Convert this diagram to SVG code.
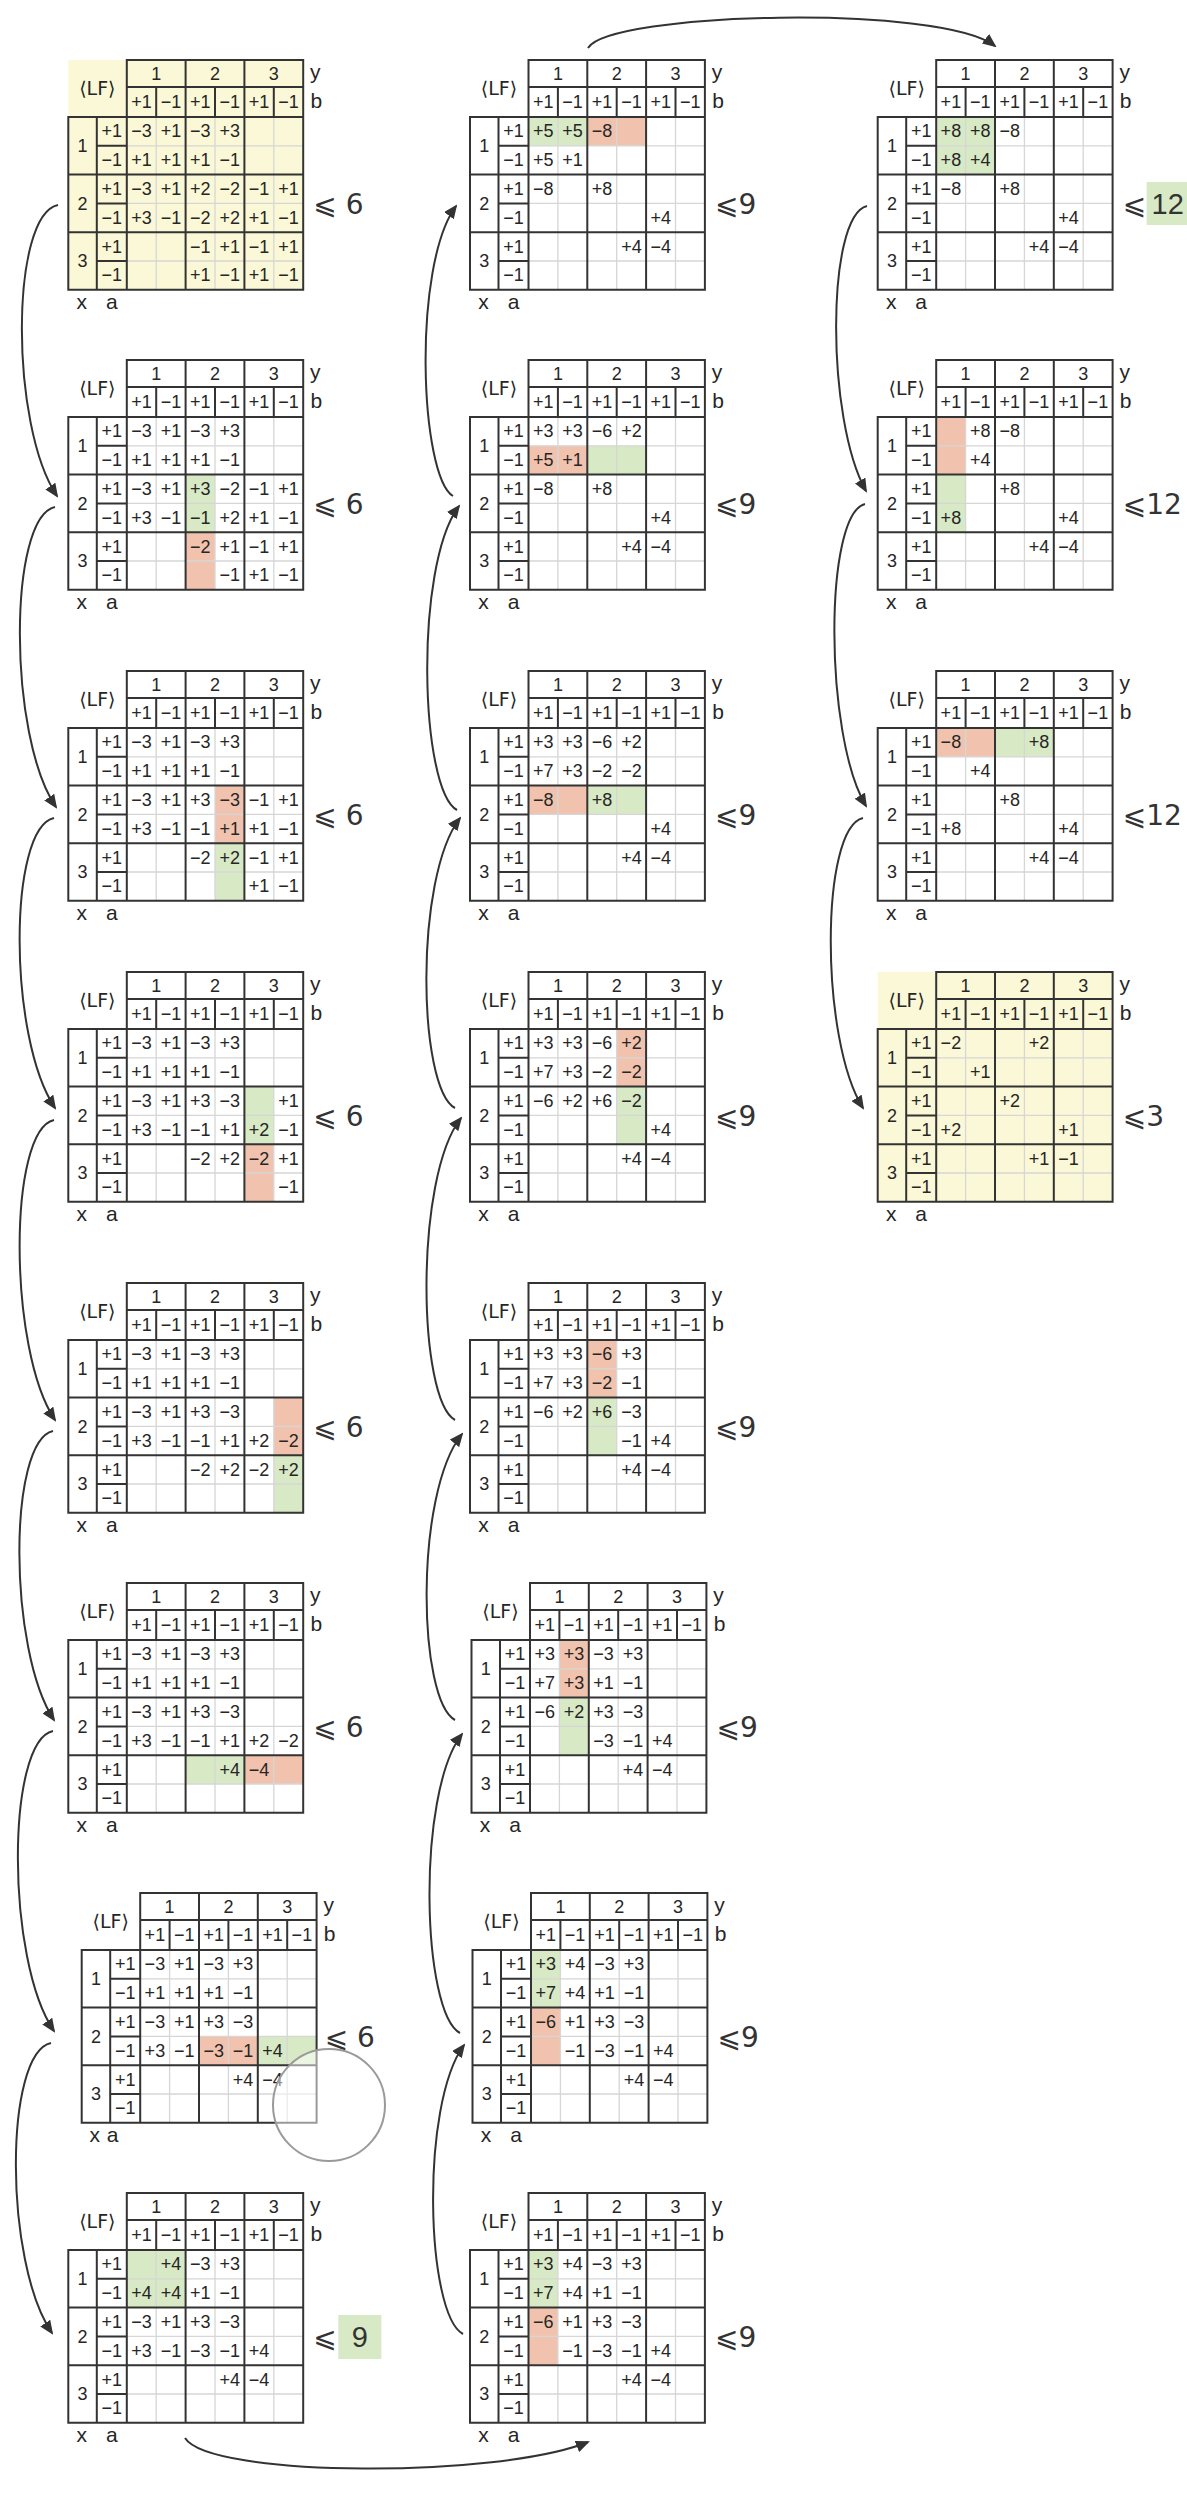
<svg xmlns="http://www.w3.org/2000/svg" xmlns:xlink="http://www.w3.org/1999/xlink" width="1187" height="2500" viewBox="0 0 1187 2500">
<style>
.d{stroke:#333;stroke-width:2;fill:none;stroke-linecap:square}
.l{stroke:#d6d6d6;stroke-width:1.3;fill:none}
text{font-family:"Liberation Sans",Arial,sans-serif;fill:#262626}
.t,.v{font-size:18px;text-anchor:middle}
.t.lf{font-family:"DejaVu Sans",sans-serif;font-size:19px}
.k{font-size:21px;text-anchor:middle}
.le{font-family:"DejaVu Sans",sans-serif;font-size:28px;fill:#333}
.bx{font-size:29px;text-anchor:middle;fill:#333}
.gr{fill:#d8e9c5}
.rd{fill:#f1c3ae}
.yl{fill:#fbf8d7}
.ar{fill:none;stroke:#333;stroke-width:2}
</style>
<defs>
<marker id="ah" markerWidth="14" markerHeight="12" refX="12" refY="6" orient="auto" markerUnits="userSpaceOnUse"><path d="M0 0L14 6L0 12Z" fill="#333"/></marker>
<g id="grid">
<path class="l" d="M87.9 57V229.8M146.7 57V229.8M205.5 57V229.8M58.5 85.8H234.9M58.5 143.4H234.9M58.5 201H234.9"/>
<path class="d" d="M58.5 0H234.9V229.8H0V57H58.5ZM58.5 27H234.9M58.5 57H234.9M28.5 57V229.8M58.5 57V229.8M117.3 0V229.8M176.1 0V229.8M87.9 27V57M146.7 27V57M205.5 27V57M0 114.6H234.9M0 172.2H234.9M28.5 85.8H58.5M28.5 143.4H58.5M28.5 201H58.5"/>
</g>
</defs>

<g id="connectors">
<path class="ar" marker-end="url(#ah)" d="M58 205C10 215 10 426 57 496"/>
<path class="ar" marker-end="url(#ah)" d="M55 507C8 517 8 737 56 807"/>
<path class="ar" marker-end="url(#ah)" d="M54 818C8 828 8 1038 55 1108"/>
<path class="ar" marker-end="url(#ah)" d="M54 1120C8 1130 8 1350 55 1420"/>
<path class="ar" marker-end="url(#ah)" d="M53 1431C8 1441 8 1650 54 1720"/>
<path class="ar" marker-end="url(#ah)" d="M53 1731C6 1741 6 1961 54 2031"/>
<path class="ar" marker-end="url(#ah)" d="M51 2043C4 2053 4 2263 52 2333"/>
<path class="ar" marker-end="url(#ah)" d="M185 2438C210 2478 500 2478 588 2442"/>
<path class="ar" marker-end="url(#ah)" d="M463 2334C426 2314 420 2105 464 2045"/>
<path class="ar" marker-end="url(#ah)" d="M460 2033C422 2013 416 1794 462 1734"/>
<path class="ar" marker-end="url(#ah)" d="M455 1720C418 1700 414 1494 462 1434"/>
<path class="ar" marker-end="url(#ah)" d="M455 1420C418 1400 414 1178 461 1118"/>
<path class="ar" marker-end="url(#ah)" d="M455 1108C418 1088 414 878 460 818"/>
<path class="ar" marker-end="url(#ah)" d="M457 810C420 790 414 566 459 506"/>
<path class="ar" marker-end="url(#ah)" d="M453 496C420 476 412 266 456 206"/>
<path class="ar" marker-end="url(#ah)" d="M588 48C610 12 940 4 995 46"/>
<path class="ar" marker-end="url(#ah)" d="M867 206C826 216 826 420 866 491"/>
<path class="ar" marker-end="url(#ah)" d="M865 504C824 514 824 736 866 806"/>
<path class="ar" marker-end="url(#ah)" d="M863 818C820 828 820 1040 863 1108"/>
</g>

<g id="table-1" transform="translate(68.3 60)">
<rect class="yl" x="0" y="0" width="234.9" height="229.8"/>
<use href="#grid"/>
<text class="t" y="19.5"><tspan x="87.9">1</tspan><tspan x="146.7">2</tspan><tspan x="205.5">3</tspan></text>
<text class="t" y="48"><tspan x="73.2">+1</tspan><tspan x="102.6">−1</tspan><tspan x="132">+1</tspan><tspan x="161.4">−1</tspan><tspan x="190.8">+1</tspan><tspan x="220.2">−1</tspan></text>
<text class="t lf" x="29" y="35">⟨LF⟩</text>
<text class="t"><tspan x="14.2" y="92">1</tspan><tspan x="14.2" y="149.5">2</tspan><tspan x="14.2" y="207">3</tspan></text>
<text class="t"><tspan x="43.5" y="77.4">+1</tspan><tspan x="43.5" y="106.2">−1</tspan><tspan x="43.5" y="135">+1</tspan><tspan x="43.5" y="163.8">−1</tspan><tspan x="43.5" y="192.6">+1</tspan><tspan x="43.5" y="221.4">−1</tspan></text>
<text class="k" x="247" y="19">y</text><text class="k" x="248" y="48">b</text><text class="k" x="13.5" y="249">x</text><text class="k" x="43.5" y="249">a</text>
<text class="v" y="77.4"><tspan x="73.2">−3</tspan><tspan x="102.6">+1</tspan><tspan x="132">−3</tspan><tspan x="161.4">+3</tspan></text>
<text class="v" y="106.2"><tspan x="73.2">+1</tspan><tspan x="102.6">+1</tspan><tspan x="132">+1</tspan><tspan x="161.4">−1</tspan></text>
<text class="v" y="135"><tspan x="73.2">−3</tspan><tspan x="102.6">+1</tspan><tspan x="132">+2</tspan><tspan x="161.4">−2</tspan><tspan x="190.8">−1</tspan><tspan x="220.2">+1</tspan></text>
<text class="v" y="163.8"><tspan x="73.2">+3</tspan><tspan x="102.6">−1</tspan><tspan x="132">−2</tspan><tspan x="161.4">+2</tspan><tspan x="190.8">+1</tspan><tspan x="220.2">−1</tspan></text>
<text class="v" y="192.6"><tspan x="132">−1</tspan><tspan x="161.4">+1</tspan><tspan x="190.8">−1</tspan><tspan x="220.2">+1</tspan></text>
<text class="v" y="221.4"><tspan x="132">+1</tspan><tspan x="161.4">−1</tspan><tspan x="190.8">+1</tspan><tspan x="220.2">−1</tspan></text>
<text class="le" x="245" y="153.5">⩽ 6</text>
</g>

<g id="table-2" transform="translate(68.3 360)">
<rect class="gr" x="117.3" y="114.6" width="29.4" height="57.6"/>
<rect class="rd" x="117.3" y="172.2" width="29.4" height="57.6"/>
<use href="#grid"/>
<text class="t" y="19.5"><tspan x="87.9">1</tspan><tspan x="146.7">2</tspan><tspan x="205.5">3</tspan></text>
<text class="t" y="48"><tspan x="73.2">+1</tspan><tspan x="102.6">−1</tspan><tspan x="132">+1</tspan><tspan x="161.4">−1</tspan><tspan x="190.8">+1</tspan><tspan x="220.2">−1</tspan></text>
<text class="t lf" x="29" y="35">⟨LF⟩</text>
<text class="t"><tspan x="14.2" y="92">1</tspan><tspan x="14.2" y="149.5">2</tspan><tspan x="14.2" y="207">3</tspan></text>
<text class="t"><tspan x="43.5" y="77.4">+1</tspan><tspan x="43.5" y="106.2">−1</tspan><tspan x="43.5" y="135">+1</tspan><tspan x="43.5" y="163.8">−1</tspan><tspan x="43.5" y="192.6">+1</tspan><tspan x="43.5" y="221.4">−1</tspan></text>
<text class="k" x="247" y="19">y</text><text class="k" x="248" y="48">b</text><text class="k" x="13.5" y="249">x</text><text class="k" x="43.5" y="249">a</text>
<text class="v" y="77.4"><tspan x="73.2">−3</tspan><tspan x="102.6">+1</tspan><tspan x="132">−3</tspan><tspan x="161.4">+3</tspan></text>
<text class="v" y="106.2"><tspan x="73.2">+1</tspan><tspan x="102.6">+1</tspan><tspan x="132">+1</tspan><tspan x="161.4">−1</tspan></text>
<text class="v" y="135"><tspan x="73.2">−3</tspan><tspan x="102.6">+1</tspan><tspan x="132">+3</tspan><tspan x="161.4">−2</tspan><tspan x="190.8">−1</tspan><tspan x="220.2">+1</tspan></text>
<text class="v" y="163.8"><tspan x="73.2">+3</tspan><tspan x="102.6">−1</tspan><tspan x="132">−1</tspan><tspan x="161.4">+2</tspan><tspan x="190.8">+1</tspan><tspan x="220.2">−1</tspan></text>
<text class="v" y="192.6"><tspan x="132">−2</tspan><tspan x="161.4">+1</tspan><tspan x="190.8">−1</tspan><tspan x="220.2">+1</tspan></text>
<text class="v" y="221.4"><tspan x="161.4">−1</tspan><tspan x="190.8">+1</tspan><tspan x="220.2">−1</tspan></text>
<text class="le" x="245" y="153.5">⩽ 6</text>
</g>

<g id="table-3" transform="translate(68.3 671)">
<rect class="rd" x="146.7" y="114.6" width="29.4" height="57.6"/>
<rect class="gr" x="146.7" y="172.2" width="29.4" height="57.6"/>
<use href="#grid"/>
<text class="t" y="19.5"><tspan x="87.9">1</tspan><tspan x="146.7">2</tspan><tspan x="205.5">3</tspan></text>
<text class="t" y="48"><tspan x="73.2">+1</tspan><tspan x="102.6">−1</tspan><tspan x="132">+1</tspan><tspan x="161.4">−1</tspan><tspan x="190.8">+1</tspan><tspan x="220.2">−1</tspan></text>
<text class="t lf" x="29" y="35">⟨LF⟩</text>
<text class="t"><tspan x="14.2" y="92">1</tspan><tspan x="14.2" y="149.5">2</tspan><tspan x="14.2" y="207">3</tspan></text>
<text class="t"><tspan x="43.5" y="77.4">+1</tspan><tspan x="43.5" y="106.2">−1</tspan><tspan x="43.5" y="135">+1</tspan><tspan x="43.5" y="163.8">−1</tspan><tspan x="43.5" y="192.6">+1</tspan><tspan x="43.5" y="221.4">−1</tspan></text>
<text class="k" x="247" y="19">y</text><text class="k" x="248" y="48">b</text><text class="k" x="13.5" y="249">x</text><text class="k" x="43.5" y="249">a</text>
<text class="v" y="77.4"><tspan x="73.2">−3</tspan><tspan x="102.6">+1</tspan><tspan x="132">−3</tspan><tspan x="161.4">+3</tspan></text>
<text class="v" y="106.2"><tspan x="73.2">+1</tspan><tspan x="102.6">+1</tspan><tspan x="132">+1</tspan><tspan x="161.4">−1</tspan></text>
<text class="v" y="135"><tspan x="73.2">−3</tspan><tspan x="102.6">+1</tspan><tspan x="132">+3</tspan><tspan x="161.4">−3</tspan><tspan x="190.8">−1</tspan><tspan x="220.2">+1</tspan></text>
<text class="v" y="163.8"><tspan x="73.2">+3</tspan><tspan x="102.6">−1</tspan><tspan x="132">−1</tspan><tspan x="161.4">+1</tspan><tspan x="190.8">+1</tspan><tspan x="220.2">−1</tspan></text>
<text class="v" y="192.6"><tspan x="132">−2</tspan><tspan x="161.4">+2</tspan><tspan x="190.8">−1</tspan><tspan x="220.2">+1</tspan></text>
<text class="v" y="221.4"><tspan x="190.8">+1</tspan><tspan x="220.2">−1</tspan></text>
<text class="le" x="245" y="153.5">⩽ 6</text>
</g>

<g id="table-4" transform="translate(68.3 972)">
<rect class="gr" x="176.1" y="114.6" width="29.4" height="57.6"/>
<rect class="rd" x="176.1" y="172.2" width="29.4" height="57.6"/>
<use href="#grid"/>
<text class="t" y="19.5"><tspan x="87.9">1</tspan><tspan x="146.7">2</tspan><tspan x="205.5">3</tspan></text>
<text class="t" y="48"><tspan x="73.2">+1</tspan><tspan x="102.6">−1</tspan><tspan x="132">+1</tspan><tspan x="161.4">−1</tspan><tspan x="190.8">+1</tspan><tspan x="220.2">−1</tspan></text>
<text class="t lf" x="29" y="35">⟨LF⟩</text>
<text class="t"><tspan x="14.2" y="92">1</tspan><tspan x="14.2" y="149.5">2</tspan><tspan x="14.2" y="207">3</tspan></text>
<text class="t"><tspan x="43.5" y="77.4">+1</tspan><tspan x="43.5" y="106.2">−1</tspan><tspan x="43.5" y="135">+1</tspan><tspan x="43.5" y="163.8">−1</tspan><tspan x="43.5" y="192.6">+1</tspan><tspan x="43.5" y="221.4">−1</tspan></text>
<text class="k" x="247" y="19">y</text><text class="k" x="248" y="48">b</text><text class="k" x="13.5" y="249">x</text><text class="k" x="43.5" y="249">a</text>
<text class="v" y="77.4"><tspan x="73.2">−3</tspan><tspan x="102.6">+1</tspan><tspan x="132">−3</tspan><tspan x="161.4">+3</tspan></text>
<text class="v" y="106.2"><tspan x="73.2">+1</tspan><tspan x="102.6">+1</tspan><tspan x="132">+1</tspan><tspan x="161.4">−1</tspan></text>
<text class="v" y="135"><tspan x="73.2">−3</tspan><tspan x="102.6">+1</tspan><tspan x="132">+3</tspan><tspan x="161.4">−3</tspan><tspan x="220.2">+1</tspan></text>
<text class="v" y="163.8"><tspan x="73.2">+3</tspan><tspan x="102.6">−1</tspan><tspan x="132">−1</tspan><tspan x="161.4">+1</tspan><tspan x="190.8">+2</tspan><tspan x="220.2">−1</tspan></text>
<text class="v" y="192.6"><tspan x="132">−2</tspan><tspan x="161.4">+2</tspan><tspan x="190.8">−2</tspan><tspan x="220.2">+1</tspan></text>
<text class="v" y="221.4"><tspan x="220.2">−1</tspan></text>
<text class="le" x="245" y="153.5">⩽ 6</text>
</g>

<g id="table-5" transform="translate(68.3 1283)">
<rect class="rd" x="205.5" y="114.6" width="29.4" height="57.6"/>
<rect class="gr" x="205.5" y="172.2" width="29.4" height="57.6"/>
<use href="#grid"/>
<text class="t" y="19.5"><tspan x="87.9">1</tspan><tspan x="146.7">2</tspan><tspan x="205.5">3</tspan></text>
<text class="t" y="48"><tspan x="73.2">+1</tspan><tspan x="102.6">−1</tspan><tspan x="132">+1</tspan><tspan x="161.4">−1</tspan><tspan x="190.8">+1</tspan><tspan x="220.2">−1</tspan></text>
<text class="t lf" x="29" y="35">⟨LF⟩</text>
<text class="t"><tspan x="14.2" y="92">1</tspan><tspan x="14.2" y="149.5">2</tspan><tspan x="14.2" y="207">3</tspan></text>
<text class="t"><tspan x="43.5" y="77.4">+1</tspan><tspan x="43.5" y="106.2">−1</tspan><tspan x="43.5" y="135">+1</tspan><tspan x="43.5" y="163.8">−1</tspan><tspan x="43.5" y="192.6">+1</tspan><tspan x="43.5" y="221.4">−1</tspan></text>
<text class="k" x="247" y="19">y</text><text class="k" x="248" y="48">b</text><text class="k" x="13.5" y="249">x</text><text class="k" x="43.5" y="249">a</text>
<text class="v" y="77.4"><tspan x="73.2">−3</tspan><tspan x="102.6">+1</tspan><tspan x="132">−3</tspan><tspan x="161.4">+3</tspan></text>
<text class="v" y="106.2"><tspan x="73.2">+1</tspan><tspan x="102.6">+1</tspan><tspan x="132">+1</tspan><tspan x="161.4">−1</tspan></text>
<text class="v" y="135"><tspan x="73.2">−3</tspan><tspan x="102.6">+1</tspan><tspan x="132">+3</tspan><tspan x="161.4">−3</tspan></text>
<text class="v" y="163.8"><tspan x="73.2">+3</tspan><tspan x="102.6">−1</tspan><tspan x="132">−1</tspan><tspan x="161.4">+1</tspan><tspan x="190.8">+2</tspan><tspan x="220.2">−2</tspan></text>
<text class="v" y="192.6"><tspan x="132">−2</tspan><tspan x="161.4">+2</tspan><tspan x="190.8">−2</tspan><tspan x="220.2">+2</tspan></text>
<text class="le" x="245" y="153.5">⩽ 6</text>
</g>

<g id="table-6" transform="translate(68.3 1583)">
<rect class="gr" x="117.3" y="172.2" width="58.8" height="28.8"/>
<rect class="rd" x="176.1" y="172.2" width="58.8" height="28.8"/>
<use href="#grid"/>
<text class="t" y="19.5"><tspan x="87.9">1</tspan><tspan x="146.7">2</tspan><tspan x="205.5">3</tspan></text>
<text class="t" y="48"><tspan x="73.2">+1</tspan><tspan x="102.6">−1</tspan><tspan x="132">+1</tspan><tspan x="161.4">−1</tspan><tspan x="190.8">+1</tspan><tspan x="220.2">−1</tspan></text>
<text class="t lf" x="29" y="35">⟨LF⟩</text>
<text class="t"><tspan x="14.2" y="92">1</tspan><tspan x="14.2" y="149.5">2</tspan><tspan x="14.2" y="207">3</tspan></text>
<text class="t"><tspan x="43.5" y="77.4">+1</tspan><tspan x="43.5" y="106.2">−1</tspan><tspan x="43.5" y="135">+1</tspan><tspan x="43.5" y="163.8">−1</tspan><tspan x="43.5" y="192.6">+1</tspan><tspan x="43.5" y="221.4">−1</tspan></text>
<text class="k" x="247" y="19">y</text><text class="k" x="248" y="48">b</text><text class="k" x="13.5" y="249">x</text><text class="k" x="43.5" y="249">a</text>
<text class="v" y="77.4"><tspan x="73.2">−3</tspan><tspan x="102.6">+1</tspan><tspan x="132">−3</tspan><tspan x="161.4">+3</tspan></text>
<text class="v" y="106.2"><tspan x="73.2">+1</tspan><tspan x="102.6">+1</tspan><tspan x="132">+1</tspan><tspan x="161.4">−1</tspan></text>
<text class="v" y="135"><tspan x="73.2">−3</tspan><tspan x="102.6">+1</tspan><tspan x="132">+3</tspan><tspan x="161.4">−3</tspan></text>
<text class="v" y="163.8"><tspan x="73.2">+3</tspan><tspan x="102.6">−1</tspan><tspan x="132">−1</tspan><tspan x="161.4">+1</tspan><tspan x="190.8">+2</tspan><tspan x="220.2">−2</tspan></text>
<text class="v" y="192.6"><tspan x="161.4">+4</tspan><tspan x="190.8">−4</tspan></text>
<text class="le" x="245" y="153.5">⩽ 6</text>
</g>

<g id="table-7" transform="translate(81.7 1893)">
<rect class="rd" x="117.3" y="143.4" width="58.8" height="28.8"/>
<rect class="gr" x="176.1" y="143.4" width="58.8" height="28.8"/>
<use href="#grid"/>
<text class="t" y="19.5"><tspan x="87.9">1</tspan><tspan x="146.7">2</tspan><tspan x="205.5">3</tspan></text>
<text class="t" y="48"><tspan x="73.2">+1</tspan><tspan x="102.6">−1</tspan><tspan x="132">+1</tspan><tspan x="161.4">−1</tspan><tspan x="190.8">+1</tspan><tspan x="220.2">−1</tspan></text>
<text class="t lf" x="29" y="35">⟨LF⟩</text>
<text class="t"><tspan x="14.2" y="92">1</tspan><tspan x="14.2" y="149.5">2</tspan><tspan x="14.2" y="207">3</tspan></text>
<text class="t"><tspan x="43.5" y="77.4">+1</tspan><tspan x="43.5" y="106.2">−1</tspan><tspan x="43.5" y="135">+1</tspan><tspan x="43.5" y="163.8">−1</tspan><tspan x="43.5" y="192.6">+1</tspan><tspan x="43.5" y="221.4">−1</tspan></text>
<text class="k" x="247" y="19">y</text><text class="k" x="248" y="48">b</text><text class="k" x="13" y="249">x</text><text class="k" x="31" y="249">a</text>
<text class="v" y="77.4"><tspan x="73.2">−3</tspan><tspan x="102.6">+1</tspan><tspan x="132">−3</tspan><tspan x="161.4">+3</tspan></text>
<text class="v" y="106.2"><tspan x="73.2">+1</tspan><tspan x="102.6">+1</tspan><tspan x="132">+1</tspan><tspan x="161.4">−1</tspan></text>
<text class="v" y="135"><tspan x="73.2">−3</tspan><tspan x="102.6">+1</tspan><tspan x="132">+3</tspan><tspan x="161.4">−3</tspan></text>
<text class="v" y="163.8"><tspan x="73.2">+3</tspan><tspan x="102.6">−1</tspan><tspan x="132">−3</tspan><tspan x="161.4">−1</tspan><tspan x="190.8">+4</tspan></text>
<text class="v" y="192.6"><tspan x="161.4">+4</tspan><tspan x="190.8">−4</tspan></text>
<text class="le" x="243" y="153.5">⩽ 6</text>
<circle cx="247.3" cy="212" r="56" fill="#fff" fill-opacity="0.5" stroke="#9a9a9a" stroke-width="2"/>
</g>

<g id="table-8" transform="translate(68.3 2193)">
<rect class="gr" x="58.5" y="57" width="58.8" height="57.6"/>
<use href="#grid"/>
<text class="t" y="19.5"><tspan x="87.9">1</tspan><tspan x="146.7">2</tspan><tspan x="205.5">3</tspan></text>
<text class="t" y="48"><tspan x="73.2">+1</tspan><tspan x="102.6">−1</tspan><tspan x="132">+1</tspan><tspan x="161.4">−1</tspan><tspan x="190.8">+1</tspan><tspan x="220.2">−1</tspan></text>
<text class="t lf" x="29" y="35">⟨LF⟩</text>
<text class="t"><tspan x="14.2" y="92">1</tspan><tspan x="14.2" y="149.5">2</tspan><tspan x="14.2" y="207">3</tspan></text>
<text class="t"><tspan x="43.5" y="77.4">+1</tspan><tspan x="43.5" y="106.2">−1</tspan><tspan x="43.5" y="135">+1</tspan><tspan x="43.5" y="163.8">−1</tspan><tspan x="43.5" y="192.6">+1</tspan><tspan x="43.5" y="221.4">−1</tspan></text>
<text class="k" x="247" y="19">y</text><text class="k" x="248" y="48">b</text><text class="k" x="13.5" y="249">x</text><text class="k" x="43.5" y="249">a</text>
<text class="v" y="77.4"><tspan x="102.6">+4</tspan><tspan x="132">−3</tspan><tspan x="161.4">+3</tspan></text>
<text class="v" y="106.2"><tspan x="73.2">+4</tspan><tspan x="102.6">+4</tspan><tspan x="132">+1</tspan><tspan x="161.4">−1</tspan></text>
<text class="v" y="135"><tspan x="73.2">−3</tspan><tspan x="102.6">+1</tspan><tspan x="132">+3</tspan><tspan x="161.4">−3</tspan></text>
<text class="v" y="163.8"><tspan x="73.2">+3</tspan><tspan x="102.6">−1</tspan><tspan x="132">−3</tspan><tspan x="161.4">−1</tspan><tspan x="190.8">+4</tspan></text>
<text class="v" y="192.6"><tspan x="161.4">+4</tspan><tspan x="190.8">−4</tspan></text>
<text class="le" x="245" y="153.5">⩽</text>
<rect class="gr" x="270" y="122" width="43" height="44"/>
<text class="bx" x="291.5" y="154">9</text>
</g>

<g id="table-9" transform="translate(470 60)">
<rect class="gr" x="58.5" y="57" width="58.8" height="28.8"/>
<rect class="rd" x="117.3" y="57" width="58.8" height="28.8"/>
<use href="#grid"/>
<text class="t" y="19.5"><tspan x="87.9">1</tspan><tspan x="146.7">2</tspan><tspan x="205.5">3</tspan></text>
<text class="t" y="48"><tspan x="73.2">+1</tspan><tspan x="102.6">−1</tspan><tspan x="132">+1</tspan><tspan x="161.4">−1</tspan><tspan x="190.8">+1</tspan><tspan x="220.2">−1</tspan></text>
<text class="t lf" x="29" y="35">⟨LF⟩</text>
<text class="t"><tspan x="14.2" y="92">1</tspan><tspan x="14.2" y="149.5">2</tspan><tspan x="14.2" y="207">3</tspan></text>
<text class="t"><tspan x="43.5" y="77.4">+1</tspan><tspan x="43.5" y="106.2">−1</tspan><tspan x="43.5" y="135">+1</tspan><tspan x="43.5" y="163.8">−1</tspan><tspan x="43.5" y="192.6">+1</tspan><tspan x="43.5" y="221.4">−1</tspan></text>
<text class="k" x="247" y="19">y</text><text class="k" x="248" y="48">b</text><text class="k" x="13.5" y="249">x</text><text class="k" x="43.5" y="249">a</text>
<text class="v" y="77.4"><tspan x="73.2">+5</tspan><tspan x="102.6">+5</tspan><tspan x="132">−8</tspan></text>
<text class="v" y="106.2"><tspan x="73.2">+5</tspan><tspan x="102.6">+1</tspan></text>
<text class="v" y="135"><tspan x="73.2">−8</tspan><tspan x="132">+8</tspan></text>
<text class="v" y="163.8"><tspan x="190.8">+4</tspan></text>
<text class="v" y="192.6"><tspan x="161.4">+4</tspan><tspan x="190.8">−4</tspan></text>
<text class="le" x="245" y="153.5">⩽9</text>
</g>

<g id="table-10" transform="translate(470 360)">
<rect class="rd" x="58.5" y="85.8" width="58.8" height="28.8"/>
<rect class="gr" x="117.3" y="85.8" width="58.8" height="28.8"/>
<use href="#grid"/>
<text class="t" y="19.5"><tspan x="87.9">1</tspan><tspan x="146.7">2</tspan><tspan x="205.5">3</tspan></text>
<text class="t" y="48"><tspan x="73.2">+1</tspan><tspan x="102.6">−1</tspan><tspan x="132">+1</tspan><tspan x="161.4">−1</tspan><tspan x="190.8">+1</tspan><tspan x="220.2">−1</tspan></text>
<text class="t lf" x="29" y="35">⟨LF⟩</text>
<text class="t"><tspan x="14.2" y="92">1</tspan><tspan x="14.2" y="149.5">2</tspan><tspan x="14.2" y="207">3</tspan></text>
<text class="t"><tspan x="43.5" y="77.4">+1</tspan><tspan x="43.5" y="106.2">−1</tspan><tspan x="43.5" y="135">+1</tspan><tspan x="43.5" y="163.8">−1</tspan><tspan x="43.5" y="192.6">+1</tspan><tspan x="43.5" y="221.4">−1</tspan></text>
<text class="k" x="247" y="19">y</text><text class="k" x="248" y="48">b</text><text class="k" x="13.5" y="249">x</text><text class="k" x="43.5" y="249">a</text>
<text class="v" y="77.4"><tspan x="73.2">+3</tspan><tspan x="102.6">+3</tspan><tspan x="132">−6</tspan><tspan x="161.4">+2</tspan></text>
<text class="v" y="106.2"><tspan x="73.2">+5</tspan><tspan x="102.6">+1</tspan></text>
<text class="v" y="135"><tspan x="73.2">−8</tspan><tspan x="132">+8</tspan></text>
<text class="v" y="163.8"><tspan x="190.8">+4</tspan></text>
<text class="v" y="192.6"><tspan x="161.4">+4</tspan><tspan x="190.8">−4</tspan></text>
<text class="le" x="245" y="153.5">⩽9</text>
</g>

<g id="table-11" transform="translate(470 671)">
<rect class="rd" x="58.5" y="114.6" width="58.8" height="28.8"/>
<rect class="gr" x="117.3" y="114.6" width="58.8" height="28.8"/>
<use href="#grid"/>
<text class="t" y="19.5"><tspan x="87.9">1</tspan><tspan x="146.7">2</tspan><tspan x="205.5">3</tspan></text>
<text class="t" y="48"><tspan x="73.2">+1</tspan><tspan x="102.6">−1</tspan><tspan x="132">+1</tspan><tspan x="161.4">−1</tspan><tspan x="190.8">+1</tspan><tspan x="220.2">−1</tspan></text>
<text class="t lf" x="29" y="35">⟨LF⟩</text>
<text class="t"><tspan x="14.2" y="92">1</tspan><tspan x="14.2" y="149.5">2</tspan><tspan x="14.2" y="207">3</tspan></text>
<text class="t"><tspan x="43.5" y="77.4">+1</tspan><tspan x="43.5" y="106.2">−1</tspan><tspan x="43.5" y="135">+1</tspan><tspan x="43.5" y="163.8">−1</tspan><tspan x="43.5" y="192.6">+1</tspan><tspan x="43.5" y="221.4">−1</tspan></text>
<text class="k" x="247" y="19">y</text><text class="k" x="248" y="48">b</text><text class="k" x="13.5" y="249">x</text><text class="k" x="43.5" y="249">a</text>
<text class="v" y="77.4"><tspan x="73.2">+3</tspan><tspan x="102.6">+3</tspan><tspan x="132">−6</tspan><tspan x="161.4">+2</tspan></text>
<text class="v" y="106.2"><tspan x="73.2">+7</tspan><tspan x="102.6">+3</tspan><tspan x="132">−2</tspan><tspan x="161.4">−2</tspan></text>
<text class="v" y="135"><tspan x="73.2">−8</tspan><tspan x="132">+8</tspan></text>
<text class="v" y="163.8"><tspan x="190.8">+4</tspan></text>
<text class="v" y="192.6"><tspan x="161.4">+4</tspan><tspan x="190.8">−4</tspan></text>
<text class="le" x="245" y="153.5">⩽9</text>
</g>

<g id="table-12" transform="translate(470 972)">
<rect class="rd" x="146.7" y="57" width="29.4" height="57.6"/>
<rect class="gr" x="146.7" y="114.6" width="29.4" height="57.6"/>
<use href="#grid"/>
<text class="t" y="19.5"><tspan x="87.9">1</tspan><tspan x="146.7">2</tspan><tspan x="205.5">3</tspan></text>
<text class="t" y="48"><tspan x="73.2">+1</tspan><tspan x="102.6">−1</tspan><tspan x="132">+1</tspan><tspan x="161.4">−1</tspan><tspan x="190.8">+1</tspan><tspan x="220.2">−1</tspan></text>
<text class="t lf" x="29" y="35">⟨LF⟩</text>
<text class="t"><tspan x="14.2" y="92">1</tspan><tspan x="14.2" y="149.5">2</tspan><tspan x="14.2" y="207">3</tspan></text>
<text class="t"><tspan x="43.5" y="77.4">+1</tspan><tspan x="43.5" y="106.2">−1</tspan><tspan x="43.5" y="135">+1</tspan><tspan x="43.5" y="163.8">−1</tspan><tspan x="43.5" y="192.6">+1</tspan><tspan x="43.5" y="221.4">−1</tspan></text>
<text class="k" x="247" y="19">y</text><text class="k" x="248" y="48">b</text><text class="k" x="13.5" y="249">x</text><text class="k" x="43.5" y="249">a</text>
<text class="v" y="77.4"><tspan x="73.2">+3</tspan><tspan x="102.6">+3</tspan><tspan x="132">−6</tspan><tspan x="161.4">+2</tspan></text>
<text class="v" y="106.2"><tspan x="73.2">+7</tspan><tspan x="102.6">+3</tspan><tspan x="132">−2</tspan><tspan x="161.4">−2</tspan></text>
<text class="v" y="135"><tspan x="73.2">−6</tspan><tspan x="102.6">+2</tspan><tspan x="132">+6</tspan><tspan x="161.4">−2</tspan></text>
<text class="v" y="163.8"><tspan x="190.8">+4</tspan></text>
<text class="v" y="192.6"><tspan x="161.4">+4</tspan><tspan x="190.8">−4</tspan></text>
<text class="le" x="245" y="153.5">⩽9</text>
</g>

<g id="table-13" transform="translate(470 1283)">
<rect class="rd" x="117.3" y="57" width="29.4" height="57.6"/>
<rect class="gr" x="117.3" y="114.6" width="29.4" height="57.6"/>
<use href="#grid"/>
<text class="t" y="19.5"><tspan x="87.9">1</tspan><tspan x="146.7">2</tspan><tspan x="205.5">3</tspan></text>
<text class="t" y="48"><tspan x="73.2">+1</tspan><tspan x="102.6">−1</tspan><tspan x="132">+1</tspan><tspan x="161.4">−1</tspan><tspan x="190.8">+1</tspan><tspan x="220.2">−1</tspan></text>
<text class="t lf" x="29" y="35">⟨LF⟩</text>
<text class="t"><tspan x="14.2" y="92">1</tspan><tspan x="14.2" y="149.5">2</tspan><tspan x="14.2" y="207">3</tspan></text>
<text class="t"><tspan x="43.5" y="77.4">+1</tspan><tspan x="43.5" y="106.2">−1</tspan><tspan x="43.5" y="135">+1</tspan><tspan x="43.5" y="163.8">−1</tspan><tspan x="43.5" y="192.6">+1</tspan><tspan x="43.5" y="221.4">−1</tspan></text>
<text class="k" x="247" y="19">y</text><text class="k" x="248" y="48">b</text><text class="k" x="13.5" y="249">x</text><text class="k" x="43.5" y="249">a</text>
<text class="v" y="77.4"><tspan x="73.2">+3</tspan><tspan x="102.6">+3</tspan><tspan x="132">−6</tspan><tspan x="161.4">+3</tspan></text>
<text class="v" y="106.2"><tspan x="73.2">+7</tspan><tspan x="102.6">+3</tspan><tspan x="132">−2</tspan><tspan x="161.4">−1</tspan></text>
<text class="v" y="135"><tspan x="73.2">−6</tspan><tspan x="102.6">+2</tspan><tspan x="132">+6</tspan><tspan x="161.4">−3</tspan></text>
<text class="v" y="163.8"><tspan x="161.4">−1</tspan><tspan x="190.8">+4</tspan></text>
<text class="v" y="192.6"><tspan x="161.4">+4</tspan><tspan x="190.8">−4</tspan></text>
<text class="le" x="245" y="153.5">⩽9</text>
</g>

<g id="table-14" transform="translate(471.5 1583)">
<rect class="rd" x="87.9" y="57" width="29.4" height="57.6"/>
<rect class="gr" x="87.9" y="114.6" width="29.4" height="57.6"/>
<use href="#grid"/>
<text class="t" y="19.5"><tspan x="87.9">1</tspan><tspan x="146.7">2</tspan><tspan x="205.5">3</tspan></text>
<text class="t" y="48"><tspan x="73.2">+1</tspan><tspan x="102.6">−1</tspan><tspan x="132">+1</tspan><tspan x="161.4">−1</tspan><tspan x="190.8">+1</tspan><tspan x="220.2">−1</tspan></text>
<text class="t lf" x="29" y="35">⟨LF⟩</text>
<text class="t"><tspan x="14.2" y="92">1</tspan><tspan x="14.2" y="149.5">2</tspan><tspan x="14.2" y="207">3</tspan></text>
<text class="t"><tspan x="43.5" y="77.4">+1</tspan><tspan x="43.5" y="106.2">−1</tspan><tspan x="43.5" y="135">+1</tspan><tspan x="43.5" y="163.8">−1</tspan><tspan x="43.5" y="192.6">+1</tspan><tspan x="43.5" y="221.4">−1</tspan></text>
<text class="k" x="247" y="19">y</text><text class="k" x="248" y="48">b</text><text class="k" x="13.5" y="249">x</text><text class="k" x="43.5" y="249">a</text>
<text class="v" y="77.4"><tspan x="73.2">+3</tspan><tspan x="102.6">+3</tspan><tspan x="132">−3</tspan><tspan x="161.4">+3</tspan></text>
<text class="v" y="106.2"><tspan x="73.2">+7</tspan><tspan x="102.6">+3</tspan><tspan x="132">+1</tspan><tspan x="161.4">−1</tspan></text>
<text class="v" y="135"><tspan x="73.2">−6</tspan><tspan x="102.6">+2</tspan><tspan x="132">+3</tspan><tspan x="161.4">−3</tspan></text>
<text class="v" y="163.8"><tspan x="132">−3</tspan><tspan x="161.4">−1</tspan><tspan x="190.8">+4</tspan></text>
<text class="v" y="192.6"><tspan x="161.4">+4</tspan><tspan x="190.8">−4</tspan></text>
<text class="le" x="245" y="153.5">⩽9</text>
</g>

<g id="table-15" transform="translate(472.5 1893)">
<rect class="gr" x="58.5" y="57" width="29.4" height="57.6"/>
<rect class="rd" x="58.5" y="114.6" width="29.4" height="57.6"/>
<use href="#grid"/>
<text class="t" y="19.5"><tspan x="87.9">1</tspan><tspan x="146.7">2</tspan><tspan x="205.5">3</tspan></text>
<text class="t" y="48"><tspan x="73.2">+1</tspan><tspan x="102.6">−1</tspan><tspan x="132">+1</tspan><tspan x="161.4">−1</tspan><tspan x="190.8">+1</tspan><tspan x="220.2">−1</tspan></text>
<text class="t lf" x="29" y="35">⟨LF⟩</text>
<text class="t"><tspan x="14.2" y="92">1</tspan><tspan x="14.2" y="149.5">2</tspan><tspan x="14.2" y="207">3</tspan></text>
<text class="t"><tspan x="43.5" y="77.4">+1</tspan><tspan x="43.5" y="106.2">−1</tspan><tspan x="43.5" y="135">+1</tspan><tspan x="43.5" y="163.8">−1</tspan><tspan x="43.5" y="192.6">+1</tspan><tspan x="43.5" y="221.4">−1</tspan></text>
<text class="k" x="247" y="19">y</text><text class="k" x="248" y="48">b</text><text class="k" x="13.5" y="249">x</text><text class="k" x="43.5" y="249">a</text>
<text class="v" y="77.4"><tspan x="73.2">+3</tspan><tspan x="102.6">+4</tspan><tspan x="132">−3</tspan><tspan x="161.4">+3</tspan></text>
<text class="v" y="106.2"><tspan x="73.2">+7</tspan><tspan x="102.6">+4</tspan><tspan x="132">+1</tspan><tspan x="161.4">−1</tspan></text>
<text class="v" y="135"><tspan x="73.2">−6</tspan><tspan x="102.6">+1</tspan><tspan x="132">+3</tspan><tspan x="161.4">−3</tspan></text>
<text class="v" y="163.8"><tspan x="102.6">−1</tspan><tspan x="132">−3</tspan><tspan x="161.4">−1</tspan><tspan x="190.8">+4</tspan></text>
<text class="v" y="192.6"><tspan x="161.4">+4</tspan><tspan x="190.8">−4</tspan></text>
<text class="le" x="245" y="153.5">⩽9</text>
</g>

<g id="table-16" transform="translate(470 2193)">
<rect class="gr" x="58.5" y="57" width="29.4" height="57.6"/>
<rect class="rd" x="58.5" y="114.6" width="29.4" height="57.6"/>
<use href="#grid"/>
<text class="t" y="19.5"><tspan x="87.9">1</tspan><tspan x="146.7">2</tspan><tspan x="205.5">3</tspan></text>
<text class="t" y="48"><tspan x="73.2">+1</tspan><tspan x="102.6">−1</tspan><tspan x="132">+1</tspan><tspan x="161.4">−1</tspan><tspan x="190.8">+1</tspan><tspan x="220.2">−1</tspan></text>
<text class="t lf" x="29" y="35">⟨LF⟩</text>
<text class="t"><tspan x="14.2" y="92">1</tspan><tspan x="14.2" y="149.5">2</tspan><tspan x="14.2" y="207">3</tspan></text>
<text class="t"><tspan x="43.5" y="77.4">+1</tspan><tspan x="43.5" y="106.2">−1</tspan><tspan x="43.5" y="135">+1</tspan><tspan x="43.5" y="163.8">−1</tspan><tspan x="43.5" y="192.6">+1</tspan><tspan x="43.5" y="221.4">−1</tspan></text>
<text class="k" x="247" y="19">y</text><text class="k" x="248" y="48">b</text><text class="k" x="13.5" y="249">x</text><text class="k" x="43.5" y="249">a</text>
<text class="v" y="77.4"><tspan x="73.2">+3</tspan><tspan x="102.6">+4</tspan><tspan x="132">−3</tspan><tspan x="161.4">+3</tspan></text>
<text class="v" y="106.2"><tspan x="73.2">+7</tspan><tspan x="102.6">+4</tspan><tspan x="132">+1</tspan><tspan x="161.4">−1</tspan></text>
<text class="v" y="135"><tspan x="73.2">−6</tspan><tspan x="102.6">+1</tspan><tspan x="132">+3</tspan><tspan x="161.4">−3</tspan></text>
<text class="v" y="163.8"><tspan x="102.6">−1</tspan><tspan x="132">−3</tspan><tspan x="161.4">−1</tspan><tspan x="190.8">+4</tspan></text>
<text class="v" y="192.6"><tspan x="161.4">+4</tspan><tspan x="190.8">−4</tspan></text>
<text class="le" x="245" y="153.5">⩽9</text>
</g>

<g id="table-17" transform="translate(877.7 60)">
<rect class="gr" x="58.5" y="57" width="58.8" height="57.6"/>
<use href="#grid"/>
<text class="t" y="19.5"><tspan x="87.9">1</tspan><tspan x="146.7">2</tspan><tspan x="205.5">3</tspan></text>
<text class="t" y="48"><tspan x="73.2">+1</tspan><tspan x="102.6">−1</tspan><tspan x="132">+1</tspan><tspan x="161.4">−1</tspan><tspan x="190.8">+1</tspan><tspan x="220.2">−1</tspan></text>
<text class="t lf" x="29" y="35">⟨LF⟩</text>
<text class="t"><tspan x="14.2" y="92">1</tspan><tspan x="14.2" y="149.5">2</tspan><tspan x="14.2" y="207">3</tspan></text>
<text class="t"><tspan x="43.5" y="77.4">+1</tspan><tspan x="43.5" y="106.2">−1</tspan><tspan x="43.5" y="135">+1</tspan><tspan x="43.5" y="163.8">−1</tspan><tspan x="43.5" y="192.6">+1</tspan><tspan x="43.5" y="221.4">−1</tspan></text>
<text class="k" x="247" y="19">y</text><text class="k" x="248" y="48">b</text><text class="k" x="13.5" y="249">x</text><text class="k" x="43.5" y="249">a</text>
<text class="v" y="77.4"><tspan x="73.2">+8</tspan><tspan x="102.6">+8</tspan><tspan x="132">−8</tspan></text>
<text class="v" y="106.2"><tspan x="73.2">+8</tspan><tspan x="102.6">+4</tspan></text>
<text class="v" y="135"><tspan x="73.2">−8</tspan><tspan x="132">+8</tspan></text>
<text class="v" y="163.8"><tspan x="190.8">+4</tspan></text>
<text class="v" y="192.6"><tspan x="161.4">+4</tspan><tspan x="190.8">−4</tspan></text>
<text class="le" x="245" y="153.5">⩽</text>
<rect class="gr" x="269" y="122" width="44" height="43"/>
<text class="bx" x="290" y="154">12</text>
</g>

<g id="table-18" transform="translate(877.7 360)">
<rect class="rd" x="58.5" y="57" width="29.4" height="57.6"/>
<rect class="gr" x="58.5" y="114.6" width="29.4" height="57.6"/>
<use href="#grid"/>
<text class="t" y="19.5"><tspan x="87.9">1</tspan><tspan x="146.7">2</tspan><tspan x="205.5">3</tspan></text>
<text class="t" y="48"><tspan x="73.2">+1</tspan><tspan x="102.6">−1</tspan><tspan x="132">+1</tspan><tspan x="161.4">−1</tspan><tspan x="190.8">+1</tspan><tspan x="220.2">−1</tspan></text>
<text class="t lf" x="29" y="35">⟨LF⟩</text>
<text class="t"><tspan x="14.2" y="92">1</tspan><tspan x="14.2" y="149.5">2</tspan><tspan x="14.2" y="207">3</tspan></text>
<text class="t"><tspan x="43.5" y="77.4">+1</tspan><tspan x="43.5" y="106.2">−1</tspan><tspan x="43.5" y="135">+1</tspan><tspan x="43.5" y="163.8">−1</tspan><tspan x="43.5" y="192.6">+1</tspan><tspan x="43.5" y="221.4">−1</tspan></text>
<text class="k" x="247" y="19">y</text><text class="k" x="248" y="48">b</text><text class="k" x="13.5" y="249">x</text><text class="k" x="43.5" y="249">a</text>
<text class="v" y="77.4"><tspan x="102.6">+8</tspan><tspan x="132">−8</tspan></text>
<text class="v" y="106.2"><tspan x="102.6">+4</tspan></text>
<text class="v" y="135"><tspan x="132">+8</tspan></text>
<text class="v" y="163.8"><tspan x="73.2">+8</tspan><tspan x="190.8">+4</tspan></text>
<text class="v" y="192.6"><tspan x="161.4">+4</tspan><tspan x="190.8">−4</tspan></text>
<text class="le" x="245" y="153.5">⩽12</text>
</g>

<g id="table-19" transform="translate(877.7 671)">
<rect class="rd" x="58.5" y="57" width="58.8" height="28.8"/>
<rect class="gr" x="117.3" y="57" width="58.8" height="28.8"/>
<use href="#grid"/>
<text class="t" y="19.5"><tspan x="87.9">1</tspan><tspan x="146.7">2</tspan><tspan x="205.5">3</tspan></text>
<text class="t" y="48"><tspan x="73.2">+1</tspan><tspan x="102.6">−1</tspan><tspan x="132">+1</tspan><tspan x="161.4">−1</tspan><tspan x="190.8">+1</tspan><tspan x="220.2">−1</tspan></text>
<text class="t lf" x="29" y="35">⟨LF⟩</text>
<text class="t"><tspan x="14.2" y="92">1</tspan><tspan x="14.2" y="149.5">2</tspan><tspan x="14.2" y="207">3</tspan></text>
<text class="t"><tspan x="43.5" y="77.4">+1</tspan><tspan x="43.5" y="106.2">−1</tspan><tspan x="43.5" y="135">+1</tspan><tspan x="43.5" y="163.8">−1</tspan><tspan x="43.5" y="192.6">+1</tspan><tspan x="43.5" y="221.4">−1</tspan></text>
<text class="k" x="247" y="19">y</text><text class="k" x="248" y="48">b</text><text class="k" x="13.5" y="249">x</text><text class="k" x="43.5" y="249">a</text>
<text class="v" y="77.4"><tspan x="73.2">−8</tspan><tspan x="161.4">+8</tspan></text>
<text class="v" y="106.2"><tspan x="102.6">+4</tspan></text>
<text class="v" y="135"><tspan x="132">+8</tspan></text>
<text class="v" y="163.8"><tspan x="73.2">+8</tspan><tspan x="190.8">+4</tspan></text>
<text class="v" y="192.6"><tspan x="161.4">+4</tspan><tspan x="190.8">−4</tspan></text>
<text class="le" x="245" y="153.5">⩽12</text>
</g>

<g id="table-20" transform="translate(877.7 972)">
<rect class="yl" x="0" y="0" width="234.9" height="229.8"/>
<use href="#grid"/>
<text class="t" y="19.5"><tspan x="87.9">1</tspan><tspan x="146.7">2</tspan><tspan x="205.5">3</tspan></text>
<text class="t" y="48"><tspan x="73.2">+1</tspan><tspan x="102.6">−1</tspan><tspan x="132">+1</tspan><tspan x="161.4">−1</tspan><tspan x="190.8">+1</tspan><tspan x="220.2">−1</tspan></text>
<text class="t lf" x="29" y="35">⟨LF⟩</text>
<text class="t"><tspan x="14.2" y="92">1</tspan><tspan x="14.2" y="149.5">2</tspan><tspan x="14.2" y="207">3</tspan></text>
<text class="t"><tspan x="43.5" y="77.4">+1</tspan><tspan x="43.5" y="106.2">−1</tspan><tspan x="43.5" y="135">+1</tspan><tspan x="43.5" y="163.8">−1</tspan><tspan x="43.5" y="192.6">+1</tspan><tspan x="43.5" y="221.4">−1</tspan></text>
<text class="k" x="247" y="19">y</text><text class="k" x="248" y="48">b</text><text class="k" x="13.5" y="249">x</text><text class="k" x="43.5" y="249">a</text>
<text class="v" y="77.4"><tspan x="73.2">−2</tspan><tspan x="161.4">+2</tspan></text>
<text class="v" y="106.2"><tspan x="102.6">+1</tspan></text>
<text class="v" y="135"><tspan x="132">+2</tspan></text>
<text class="v" y="163.8"><tspan x="73.2">+2</tspan><tspan x="190.8">+1</tspan></text>
<text class="v" y="192.6"><tspan x="161.4">+1</tspan><tspan x="190.8">−1</tspan></text>
<text class="le" x="245" y="153.5">⩽3</text>
</g>
</svg>
